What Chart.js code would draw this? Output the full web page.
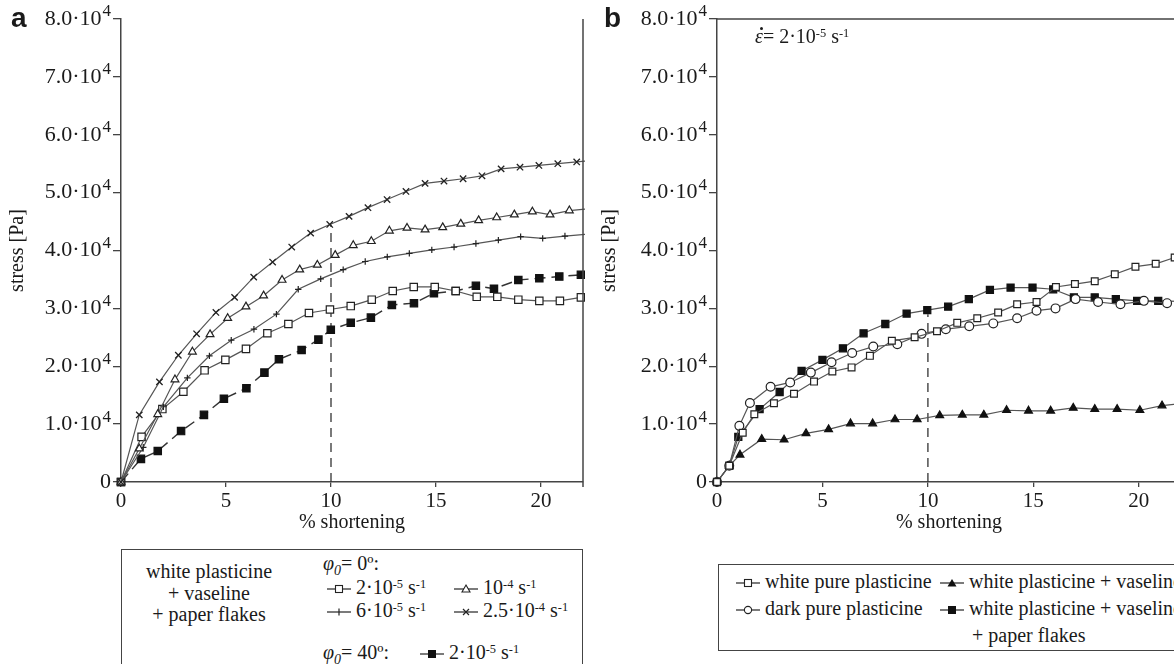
<!DOCTYPE html>
<html>
<head>
<meta charset="utf-8">
<script src="https://cdn.jsdelivr.net/npm/chart.js@4.4.0/dist/chart.umd.min.js"></script>
<style>
  body { margin: 0; background: #fff; }
  #page { position: relative; width: 1174px; height: 664px; overflow: hidden; background: #fff;
          font-family: 'Liberation Serif', 'Times New Roman', serif; color: #1a1a1a; }
  canvas { position: absolute; top: 0; }
  .panel { position: absolute; font-family: 'Liberation Sans', Arial, sans-serif; font-weight: bold; font-size: 28px; line-height: 30px; }
  .box { position: absolute; border: 1.5px solid #444; box-sizing: border-box; }
  .t { position: absolute; font-size: 20px; line-height: 22px; white-space: nowrap; }
  sup { font-size: 0.62em; vertical-align: 0.5em; line-height: 0; }
  .t svg { vertical-align: -1px; margin-right: 4px; }
  .eps { position: relative; font-style: italic; }
  .eps b { position: absolute; left: 5px; top: 2px; width: 3px; height: 3px; border-radius: 50%; background: #1a1a1a; }
</style>
</head>
<body>
<div id="page">
  <canvas id="chartA" width="600" height="540" style="left:0"></canvas>
  <canvas id="chartB" width="610" height="540" style="left:590px"></canvas>

  <div class="panel" style="left:11px; top:3px">a</div>
  <div class="panel" style="left:604px; top:3px">b</div>

  <div class="t" style="left:755px; top:25px"><span class="eps">ε<b></b></span>= 2·10<sup>-5</sup> s<sup>-1</sup></div>

  <!-- legend a -->
  <div class="box" style="left:121px; top:549px; width:462px; height:140px"></div>
  <div class="t" style="left:129px; top:561px; width:160px; text-align:center; line-height:21.5px">white plasticine<br>+ vaseline<br>+ paper flakes</div>
  <div class="t" style="left:323px; top:552px"><i>φ<sub style="font-size:0.7em">0</sub></i>= 0º:</div>
  <div class="t" style="left:326px; top:576px"><span class="mk" data-k="sqOpen"></span>2·10<sup>-5</sup> s<sup>-1</sup></div>
  <div class="t" style="left:453px; top:576px"><span class="mk" data-k="triOpen"></span>10<sup>-4</sup> s<sup>-1</sup></div>
  <div class="t" style="left:326px; top:599px"><span class="mk" data-k="plus"></span>6·10<sup>-5</sup> s<sup>-1</sup></div>
  <div class="t" style="left:453px; top:599px"><span class="mk" data-k="cross"></span>2.5·10<sup>-4</sup> s<sup>-1</sup></div>
  <div class="t" style="left:323px; top:641px"><i>φ<sub style="font-size:0.7em">0</sub></i>= 40º:</div>
  <div class="t" style="left:419px; top:641px"><span class="mk" data-k="sqFill"></span>2·10<sup>-5</sup> s<sup>-1</sup></div>

  <!-- legend b -->
  <div class="box" style="left:718px; top:564px; width:500px; height:87px"></div>
  <div class="t" style="left:735px; top:570px"><span class="mk" data-k="sqOpen"></span>white pure plasticine</div>
  <div class="t" style="left:735px; top:597px"><span class="mk" data-k="circOpen"></span>dark pure plasticine</div>
  <div class="t" style="left:939px; top:570px"><span class="mk" data-k="triFill"></span>white plasticine + vaseline</div>
  <div class="t" style="left:939px; top:597px"><span class="mk" data-k="sqFill"></span>white plasticine + vaseline</div>
  <div class="t" style="left:972px; top:624px">+ paper flakes</div>
</div>

<script>
// axis ticks (shared by both panels)
const xTicks = [0, 5, 10, 15, 20];
const yTicks = [0, 10000, 20000, 30000, 40000, 50000, 60000, 70000, 80000];
const yTickMant = ['0', '1.0', '2.0', '3.0', '4.0', '5.0', '6.0', '7.0', '8.0'];

// panel a: white plasticine + vaseline + paper flakes, phi0 = 0 deg
const aCrossX = [0, 0.87, 1.83, 2.73, 3.6, 4.52, 5.41, 6.32, 7.22, 8.13, 9.03, 9.94, 10.86, 11.76, 12.67, 13.57, 14.48, 15.38, 16.29, 17.19, 18.1, 19.0, 19.9, 20.8, 21.7, 22.6];
const aCrossY = [0, 11600, 17300, 21900, 25600, 29300, 31900, 35400, 38000, 40600, 43000, 44500, 45900, 47400, 48800, 50200, 51600, 52000, 52400, 52900, 54100, 54400, 54700, 55000, 55300, 55600];
const aTriX = [0, 0.87, 1.75, 2.57, 3.4, 4.24, 5.08, 5.95, 6.79, 7.67, 8.51, 9.35, 10.2, 11.06, 11.92, 12.78, 13.62, 14.48, 15.32, 16.18, 17.03, 17.89, 18.73, 19.59, 20.43, 21.35, 22.2];
const aTriY = [0, 5750, 11700, 17700, 22500, 25500, 28300, 30300, 32200, 34900, 36700, 37500, 39200, 40900, 41600, 43400, 43900, 43600, 44000, 44600, 45200, 45700, 46200, 46700, 46200, 46900, 47200];
const aPlusX = [0, 1.06, 2.02, 3.16, 4.21, 5.25, 6.33, 7.4, 8.44, 9.51, 10.58, 11.63, 12.68, 13.73, 14.8, 15.86, 16.9, 17.97, 19.03, 20.08, 21.14, 22.2];
const aPlusY = [0, 6000, 13000, 18000, 21800, 24500, 26400, 29000, 33300, 35100, 36700, 38100, 38900, 39500, 40100, 40600, 41200, 41800, 42400, 42100, 42500, 42800];
const aSqX = [0, 0.98, 1.97, 2.97, 3.98, 4.97, 5.95, 6.97, 7.97, 8.95, 9.95, 10.94, 11.94, 12.94, 13.94, 14.94, 15.94, 16.94, 17.92, 18.92, 19.92, 20.9, 21.9];
const aSqY = [0, 7800, 12600, 15600, 19300, 21100, 23000, 25700, 27300, 29200, 29800, 30400, 31500, 33000, 33700, 33700, 33000, 32000, 32000, 31500, 31300, 31300, 31900];
// phi0 = 40 deg
const aFillX = [0, 0.95, 1.75, 2.86, 3.95, 4.9, 5.97, 6.83, 7.52, 8.6, 9.4, 9.99, 10.94, 11.9, 12.9, 13.95, 14.9, 15.94, 16.9, 17.76, 18.92, 19.92, 20.87, 21.9];
const aFillY = [0, 4000, 5350, 8800, 11600, 14400, 16200, 18900, 21200, 22800, 24600, 26300, 27500, 28400, 30600, 30900, 32600, 33000, 33900, 33400, 34900, 35200, 35500, 35800];
const aDashX = [10, 10];
const aDashY = [0, 44500];

// panel b: strain rate 2e-5 s-1
const bWhiteX = [0, 0.58, 1.22, 1.77, 2.7, 3.65, 4.6, 5.47, 6.38, 7.25, 8.29, 9.37, 10.43, 11.39, 12.34, 13.33, 14.23, 15.15, 16.07, 16.97, 17.91, 18.86, 19.84, 20.8, 21.7];
const bWhiteY = [0, 2800, 8500, 11700, 13600, 15250, 17350, 19100, 19800, 21800, 24400, 25000, 26050, 27500, 28300, 29300, 30700, 31100, 33700, 34200, 34700, 35900, 37200, 37700, 38800];
const bDarkX = [0, 0.58, 1.06, 1.56, 2.54, 3.47, 4.45, 5.43, 6.41, 7.41, 8.55, 9.7, 10.85, 11.96, 13.1, 14.23, 15.15, 16.05, 17.0, 18.07, 19.13, 20.24, 21.34];
const bDarkY = [0, 2800, 9700, 13650, 16450, 17200, 18900, 20700, 22300, 23400, 23800, 25600, 26400, 26900, 27400, 28300, 29600, 30000, 31600, 31100, 30700, 31300, 30900];
const bVasX = [0, 0.58, 1.09, 2.12, 3.18, 4.22, 5.29, 6.33, 7.38, 8.44, 9.49, 10.56, 11.63, 12.65, 13.73, 14.77, 15.82, 16.89, 17.91, 18.97, 20.05, 21.1, 22.15];
const bVasY = [0, 2800, 4700, 7400, 7300, 8400, 9100, 10100, 10100, 10800, 10800, 11500, 11600, 11600, 12400, 12300, 12300, 12800, 12600, 12600, 12400, 13200, 13600];
const bFlakesX = [0, 0.58, 1.01, 2.02, 2.97, 4.01, 5.0, 5.97, 6.95, 7.98, 8.99, 9.97, 10.96, 11.94, 12.94, 13.92, 14.96, 15.94, 16.92, 17.91, 18.91, 19.92, 20.92, 21.9];
const bFlakesY = [0, 2800, 7800, 12600, 15550, 19200, 21100, 23100, 25700, 27300, 29100, 29700, 30300, 31600, 33200, 33600, 33600, 33300, 31900, 31900, 31600, 31300, 31300, 31200];
const bDashX = [10, 10];
const bDashY = [0, 29000];

const X_MAX = 22;
const serif = "'Liberation Serif', 'Times New Roman', serif";
const ink = '#1a1a1a';
const axisColor = '#444';

// hide markers of the points that only carry the line out to the frame
function radiusUpTo(r) {
    return ctx => (ctx.raw && ctx.raw.x > X_MAX ? 0 : r);
}

function series(xs, ys, style) {
    return Object.assign({
        data: xs.map((x, i) => ({ x: x, y: ys[i] })),
        borderColor: '#555',
        borderWidth: 1.2,
        pointBorderColor: '#222',
        pointBorderWidth: 1.2,
        pointBackgroundColor: '#fff',
        tension: 0,
        clip: { left: 12, top: 12, bottom: 12, right: 2 }
    }, style);
}

function dashLine(xs, ys) {
    return {
        data: xs.map((x, i) => ({ x: x, y: ys[i] })),
        borderColor: '#333',
        borderWidth: 1.3,
        borderDash: [9, 6],
        pointRadius: 0,
        tension: 0
    };
}

// y tick labels drawn as mantissa·10 with a raised exponent
const sciLabels = {
    id: 'sciLabels',
    afterDraw(chart) {
        const { ctx, chartArea, scales } = chart;
        const y = scales.y;
        const right = chartArea.left - 10;
        ctx.save();
        ctx.fillStyle = ink;
        ctx.textBaseline = 'middle';
        ctx.textAlign = 'right';
        yTicks.forEach((v, i) => {
            const py = y.getPixelForValue(v);
            if (v === 0) {
                ctx.font = '22px ' + serif;
                ctx.fillText(yTickMant[i], right, py);
                return;
            }
            ctx.font = '17px ' + serif;
            const ew = ctx.measureText('4').width;
            ctx.fillText('4', right, py - 7);
            ctx.font = '22px ' + serif;
            ctx.fillText(yTickMant[i] + '·10', right - ew - 1, py);
        });
        ctx.restore();
    }
};

// plot frame lines that are not axes
const frame = {
    id: 'frame',
    afterDatasetsDraw(chart, args, opts) {
        const { ctx, chartArea } = chart;
        ctx.save();
        ctx.strokeStyle = axisColor;
        ctx.lineWidth = 1.5;
        ctx.beginPath();
        if (opts.top) {
            ctx.moveTo(chartArea.left, chartArea.top);
            ctx.lineTo(chartArea.right, chartArea.top);
        }
        if (opts.right) {
            ctx.moveTo(chartArea.right, chartArea.top);
            ctx.lineTo(chartArea.right, chartArea.bottom + 5);
        }
        ctx.stroke();
        ctx.restore();
    }
};

function makeOptions(axisWidth, titlePad, rightPad, frameOpts) {
    return {
        responsive: false,
        animation: false,
        layout: { padding: { top: 19, right: rightPad, left: 0, bottom: 0 } },
        plugins: {
            legend: { display: false },
            tooltip: { enabled: false },
            frame: frameOpts
        },
        scales: {
            x: {
                type: 'linear',
                min: 0,
                max: X_MAX,
                afterBuildTicks: s => { s.ticks = xTicks.map(v => ({ value: v })); },
                afterFit: s => { s.height = 58; },
                border: { color: axisColor, width: 1.5 },
                grid: { drawOnChartArea: false, tickLength: 5, color: axisColor, lineWidth: 1.3 },
                ticks: { font: { family: serif, size: 21 }, color: ink, padding: 2, maxRotation: 0 },
                title: { display: true, text: '% shortening', font: { family: serif, size: 20 }, color: ink, padding: { bottom: 5 } }
            },
            y: {
                min: 0,
                max: 80000,
                afterBuildTicks: s => { s.ticks = yTicks.map(v => ({ value: v })); },
                afterFit: s => { s.width = axisWidth; },
                border: { color: axisColor, width: 1.5 },
                grid: { drawOnChartArea: false, tickLength: 8, color: axisColor, lineWidth: 1.3 },
                ticks: { display: false },
                title: { display: true, text: 'stress [Pa]', font: { family: serif, size: 20 }, color: ink, padding: { top: titlePad } }
            }
        }
    };
}

function initCharts() {
    new Chart(document.getElementById('chartA'), {
        type: 'line',
        data: {
            datasets: [
                series(aCrossX, aCrossY, { pointStyle: 'crossRot', pointRadius: radiusUpTo(4.5), pointBorderWidth: 1.3 }),
                series(aTriX, aTriY, { pointStyle: 'triangle', pointRadius: radiusUpTo(4.5) }),
                series(aPlusX, aPlusY, { pointStyle: 'cross', pointRadius: radiusUpTo(3.2) }),
                series(aSqX, aSqY, { pointStyle: 'rect', pointRadius: radiusUpTo(5.2) }),
                series(aFillX, aFillY, { pointStyle: 'rect', pointRadius: radiusUpTo(5.2), pointBackgroundColor: '#111', pointBorderColor: '#111', borderColor: '#333', borderWidth: 1.4, borderDash: [11, 6] }),
                dashLine(aDashX, aDashY)
            ]
        },
        options: makeOptions(121, 6, 17, { right: true, top: false }),
        plugins: [sciLabels, frame]
    });

    new Chart(document.getElementById('chartB'), {
        type: 'line',
        data: {
            datasets: [
                series(bWhiteX, bWhiteY, { pointStyle: 'rect', pointRadius: radiusUpTo(4.8) }),
                series(bDarkX, bDarkY, { pointStyle: 'circle', pointRadius: radiusUpTo(4.4) }),
                series(bFlakesX, bFlakesY, { pointStyle: 'rect', pointRadius: radiusUpTo(5), pointBackgroundColor: '#111', pointBorderColor: '#111' }),
                series(bVasX, bVasY, { pointStyle: 'triangle', pointRadius: radiusUpTo(4.5), pointBackgroundColor: '#111', pointBorderColor: '#111' }),
                dashLine(bDashX, bDashY)
            ]
        },
        options: makeOptions(127, 8, 19, { right: true, top: true }),
        plugins: [sciLabels, frame]
    });
}

// small legend keys: a line with the series marker on it
function markerSvg(kind) {
    const w = 26, h = 12, cx = 13, cy = 6;
    let m = '';
    if (kind === 'sqOpen') m = `<rect x="${cx - 3.5}" y="${cy - 3.5}" width="7" height="7" fill="#fff" stroke="#222" stroke-width="1.1"/>`;
    if (kind === 'sqFill') m = `<rect x="${cx - 4}" y="${cy - 4}" width="8" height="8" fill="#111"/>`;
    if (kind === 'triOpen') m = `<polygon points="${cx},${cy - 4} ${cx + 4},${cy + 3} ${cx - 4},${cy + 3}" fill="#fff" stroke="#222" stroke-width="1.1"/>`;
    if (kind === 'triFill') m = `<polygon points="${cx},${cy - 4} ${cx + 4.5},${cy + 3.5} ${cx - 4.5},${cy + 3.5}" fill="#111"/>`;
    if (kind === 'circOpen') m = `<circle cx="${cx}" cy="${cy}" r="3.6" fill="#fff" stroke="#222" stroke-width="1.1"/>`;
    if (kind === 'plus') m = `<path d="M${cx},${cy - 3.5}V${cy + 3.5}" stroke="#222" stroke-width="1.2"/>`;
    if (kind === 'cross') m = `<path d="M${cx - 3},${cy - 3}L${cx + 3},${cy + 3}M${cx - 3},${cy + 3}L${cx + 3},${cy - 3}" stroke="#222" stroke-width="1.2"/>`;
    return `<svg width="${w}" height="${h}"><path d="M1,${cy}H${w - 1}" stroke="#333" stroke-width="1.3"/>${m}</svg>`;
}

document.querySelectorAll('.mk').forEach(el => { el.outerHTML = markerSvg(el.dataset.k); });

initCharts();
</script>
</body>
</html>
